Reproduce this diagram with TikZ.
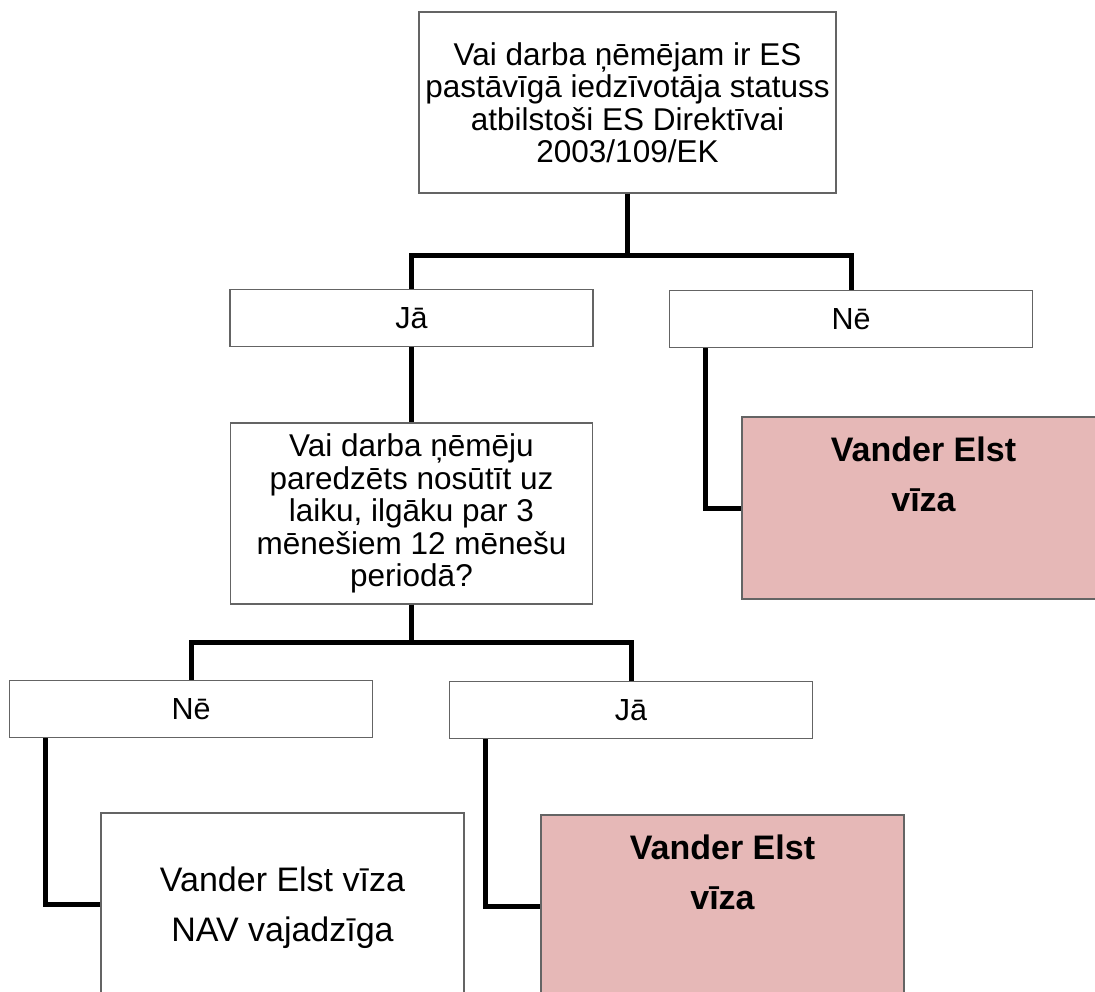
\documentclass[tikz,border=0pt]{standalone}
\usepackage{fontspec}
\setmainfont{Liberation Sans}
\usetikzlibrary{positioning}
\definecolor{boxline}{RGB}{100,100,100}
\definecolor{visapink}{RGB}{230,184,183}
\tikzstyle{question}=[rectangle,draw=boxline,line width=1.2pt,fill=white,align=center,inner sep=0pt,font=\fontsize{31.5}{32.5}\selectfont]
\tikzstyle{answer}=[rectangle,draw=boxline,line width=1.2pt,fill=white,minimum width=363pt,minimum height=57pt,inner sep=0pt,font=\fontsize{30.5}{33}\selectfont]
\tikzstyle{result}=[rectangle,draw=boxline,line width=1.2pt,minimum width=363pt,minimum height=182pt,inner sep=0pt]
\tikzstyle{resulttext}=[align=center,inner sep=0pt,font=\fontsize{34}{50}\selectfont]
\tikzstyle{edge}=[draw,line width=5pt]

\begin{document}
\begin{tikzpicture}[x=1pt,y=-1pt]

    \useasboundingbox (0,0) rectangle (1095,991);

    \node[question, minimum width=417pt, minimum height=181pt] (q1) at (627.5,102.5)
        {Vai darba ņēmējam ir ES\\pastāvīgā iedzīvotāja statuss\\atbilstoši ES Direktīvai\\2003/109/EK};
    \node[question, minimum width=362pt, minimum height=181pt] (q2) at (411.5,513.5)
        {Vai darba ņēmēju\\paredzēts nosūtīt uz\\laiku, ilgāku par 3\\mēnešiem 12 mēnešu\\periodā?};

    \foreach \x/\y/\name/\txt in {411.5/318/ja1/Jā, 851/319/ne1/Nē, 191/709/ne2/Nē, 631/710/ja2/Jā}
        \node[answer] (\name) at (\x,\y) {\txt};

    \foreach \x/\y/\name/\col in {923.5/508/viza1/visapink, 722.5/906/viza2/visapink, 282.5/904/nava/white}
        \node[result, fill=\col] (\name) at (\x,\y) {};

    \node[resulttext, font=\bfseries\fontsize{34}{50}\selectfont, below=20pt of viza1.north] (viza1txt) {Vander Elst\\vīza};
    \node[resulttext, font=\bfseries\fontsize{34}{50}\selectfont, below=20pt of viza2.north] (viza2txt) {Vander Elst\\vīza};
    \node[resulttext, below=54pt of nava.north] (navatxt) {Vander Elst vīza\\NAV vajadzīga};

    % branches
    \foreach \source/\drop/\dest in {q1/62/ja1, q1/62/ne1, q2/38/ne2, q2/38/ja2}
        \path[edge] (\source.south) -- ++(0,\drop) -| (\dest.north);

    \path[edge] (ja1.south) -- (q2.north);

    % outcomes
    \foreach \source/\dest in {ne1/viza1, ne2/nava, ja2/viza2}
        \path[edge] ([xshift=36.5pt]\source.south west) |- (\dest.west);

\end{tikzpicture}
\end{document}
